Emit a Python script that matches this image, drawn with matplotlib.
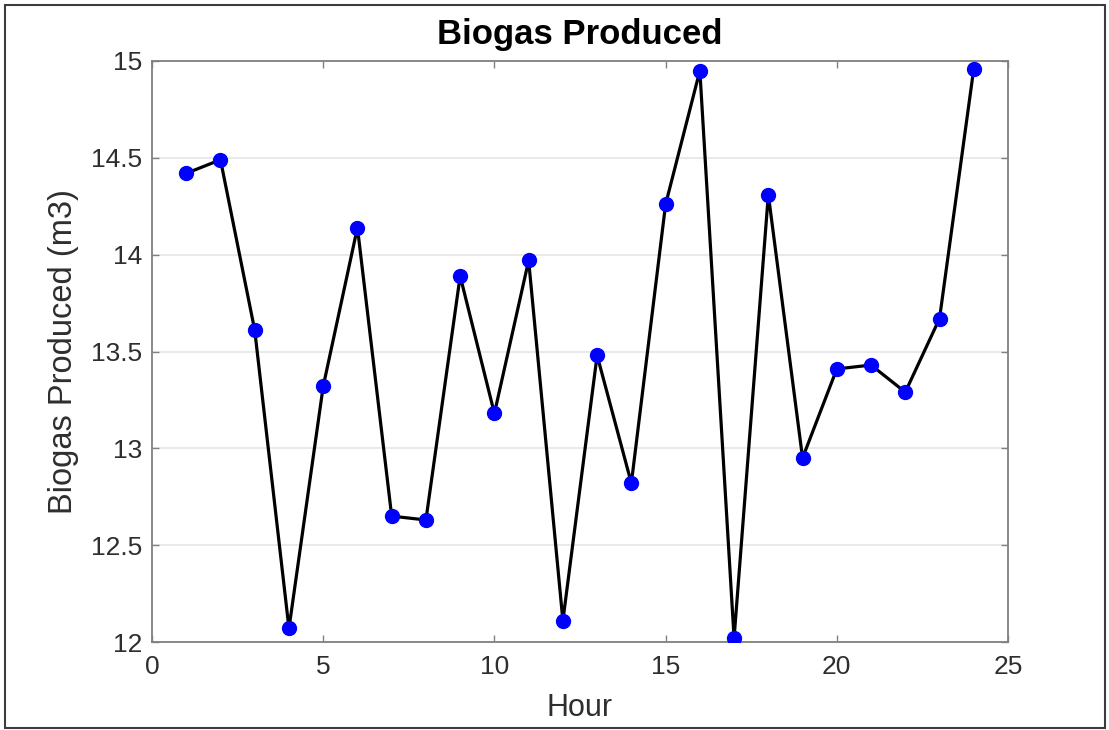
import matplotlib
matplotlib.use('Agg')
import matplotlib.pyplot as plt
from matplotlib.patches import Rectangle
import numpy as np

# data
hours = list(range(1, 25))
biogas = [14.42, 14.49, 13.61, 12.07, 13.32, 14.14, 12.65, 12.63,
          13.89, 13.18, 13.97, 12.11, 13.48, 12.82, 14.26, 14.95,
          12.02, 14.31, 12.95, 13.41, 13.43, 13.29, 13.67, 14.96]
xticks = [0, 5, 10, 15, 20, 25]
yticks = [12, 12.5, 13, 13.5, 14, 14.5, 15]
ytickLabels = ['12', '12.5', '13', '13.5', '14', '14.5', '15']

# plot settings
plotlabel = 'Biogas Produced'
xlabel = 'Hour'
ylabel = 'Biogas Produced (m3)'
textColor = '#2e2e2e'
spineColor = '#808080'
figW, figH = 1109, 730

plt.rcParams['font.family'] = ['Liberation Sans', 'DejaVu Sans']

fig = plt.figure(figsize=(figW / 100, figH / 100), dpi=100)
fig.patch.set_facecolor('white')

# axes box: left 152, right 1008, top 61, bottom 642 (pixels)
ax = fig.add_axes([152 / figW, 1 - 642 / figH, (1008 - 152) / figW, (642 - 61) / figH])

ax.plot(hours, biogas, color='black', linewidth=2.3, zorder=3)
ax.plot(hours, biogas, linestyle='none', marker='o', markersize=10,
        markerfacecolor='#0000ff', markeredgecolor='#0000ff', zorder=4)

ax.set_xlim(0, 25)
ax.set_ylim(12, 15)
ax.set_xticks(xticks)
ax.set_yticks(yticks)
ax.set_yticklabels(ytickLabels)

ax.yaxis.grid(True, color='#e3e3e3', linewidth=1.1)
ax.set_axisbelow(True)

for s in ax.spines.values():
    s.set_color(spineColor)
    s.set_linewidth(1.3)

ax.tick_params(axis='both', direction='in', length=5, width=1, color=spineColor,
               top=True, right=True, labelsize=19, labelcolor=textColor)
ax.tick_params(axis='x', pad=9)
ax.tick_params(axis='y', pad=7)

ax.set_title(plotlabel, fontsize=25, fontweight='bold', color='black', pad=12)
ax.set_xlabel(xlabel, fontsize=22, color=textColor)
ax.set_ylabel(ylabel, fontsize=23.5, color=textColor)
ax.xaxis.set_label_coords(0.5, -0.088)
ax.yaxis.set_label_coords(-0.085, 0.5)

# thin frame around the whole picture
fig.patches.append(Rectangle((5 / figW, 2 / figH), (1105 - 5) / figW, (725 - 2) / figH,
                             transform=fig.transFigure, fill=False,
                             edgecolor='#3c3c3c', linewidth=1.5))

fig.savefig('out.png', dpi=100, facecolor='white')
